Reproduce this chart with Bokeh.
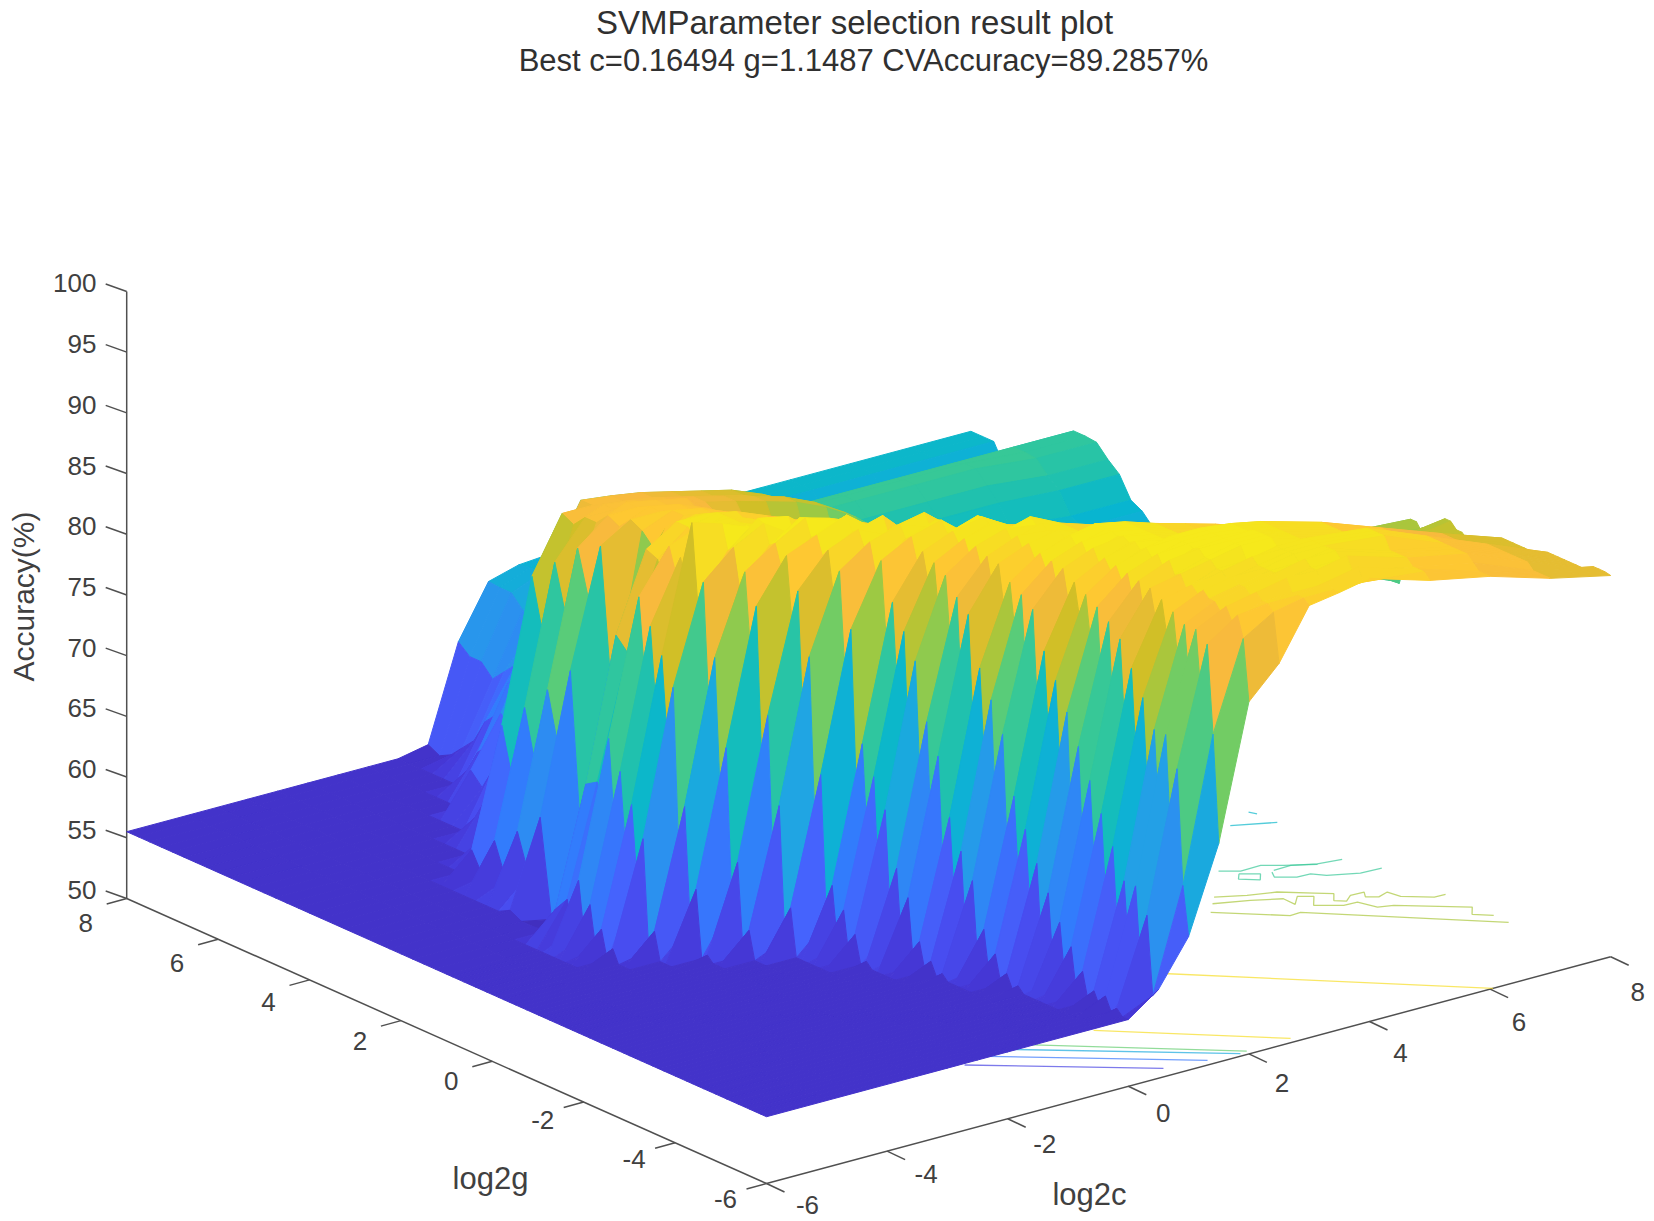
from bokeh.plotting import figure
from bokeh.models import Range1d, ColumnDataSource
from bokeh.embed import file_html
from bokeh.resources import INLINE
from bokeh.core.properties import value

title_lines = ["SVMParameter selection result plot", "Best c=0.16494 g=1.1487 CVAccuracy=89.2857%"]
z_ticks = [50, 55, 60, 65, 70, 75, 80, 85, 90, 95, 100]
g_ticks = [-6, -4, -2, 0, 2, 4, 6, 8]
c_ticks = [-6, -4, -2, 0, 2, 4, 6, 8]

log2c = [-6, -5, -4.5, -4, -3.5, -3, -2.5, -2, -1.5, -1, -.5, 0, .5, 1, 1.5, 2, 2.5, 3, 3.5, 4, 5, 6, 7, 8]
log2g = [-6 + .125 * k for k in range(57)] + [1 + .25 * k for k in range(1, 29)]
floor_level = 55.5

# accuracy per row of log2g: the last values of the row (up to log2c = 8); everything before is the flat floor
accuracy_rows = [
[57.3,61,68,79,81.5,85.6,86,86.5,85,84,82.5,81.4],
[56.6,65,76.8,84,85.5,86,86,86,85.5,84,82.5,81.5],
[56,63,74.4,84,85.7,86,86,86.5,87,85.5,84,82.5,81.5],
[57.8,67.4,79,85,86,86,86,86.5,85.5,84.5,82.5,81.5],
[56.6,65,76.8,84.8,86,86.5,87,87,87.5,86,85,83,81],
[57.8,67.4,79,85.4,86,86.5,87,87,86,85,83,81],
[56.6,65,76.8,84.8,86,86.5,87,87.5,87.5,86,85,83,81],
[59.4,69.7,81,86,86.5,87,87,87.5,86,85,83,81],
[57.8,67.4,79,85.4,86.5,87,87,87.5,87.5,87,85,83,81],
[61,72,83,86,86.5,87,87.5,87.5,87,85,83,81],
[59.4,69.7,81,86,86.5,87,87.5,87.5,87.5,87,85,83,81],
[56,63,74.4,84,86,87,87,87.5,87.5,87,85,83,81],
[61,72,83,86.5,87,87.5,88,88,87.2,85.8,84,82.2,80.5],
[56,63,74.4,84,86.7,87.5,88,88,87.2,85.8,84,82.2,80.5],
[56,63,74.4,84,86.7,87.7,88,88,88,87.2,85.8,84,82.2,80.5],
[56.6,65,76.8,84.8,86.9,87.8,88,88,87.2,85.8,84,82.2,80.5],
[56.6,65,76.8,84.8,86.9,87.8,88,88,87.7,87.2,85.8,84,82.2,80.5],
[59.4,69.7,81,86,87.3,88,88,87.7,87.2,85.8,84,82.2,80.5],
[57.8,67.4,79,85.4,87.1,87.9,88,88,87.7,87.2,85.8,84,82.2,80.5],
[61,72,83,86.5,87.5,88,88,87.7,87.2,85.8,84,82.2,80.5],
[59.4,69.7,81,86,87.3,88,87.5,86.7,86,85.3,83.7,82.2,80.6,79],
[56,63,74.4,84,86.7,87.7,87.5,86.7,86,85.3,83.7,82.2,80.6,79],
[56,63,74.4,84,86.7,87.7,88,87.5,86.7,86,85.3,83.7,82.2,80.6,79],
[56.6,65,76.8,84.8,86.9,87.8,87.5,86.7,86,85.3,83.7,82.2,80.6,79],
[56.6,65,76.8,84.8,86.9,87.8,88,87.5,86.7,86,85.3,83.7,82.2,80.6,79],
[59.4,69.7,81,86,87.3,88,87.5,86.7,86,85.3,83.7,82.2,80.6,79],
[57.8,67.4,79,85.4,87.1,87.9,88,87.5,86.7,86,85.3,83.7,82.2,80.6,79.5],
[61,72,83,86.5,87.5,88,87.5,86.7,86,85.3,83.7,82.2,80.6,79.5],
[61,72,83,86.5,87.5,88,86.8,86,85.3,84.6,83.8,82.3,80.8,79.3,80],
[56,63,74.4,84,86.7,87.7,86.8,86,85.3,84.6,83.8,82.3,80.8,79.3,80],
[56,63,74.4,84,86.7,87.7,87.5,86.8,86,85.3,84.6,83.8,82.3,80.8,79.3,77],
[57.8,67.4,79,85.4,87.1,87.9,86.8,86,85.3,84.6,83.8,82.3,80.8,79.3,79],
[57.8,67.4,79,85.4,87.1,87.9,87.5,86.8,86,85.3,84.6,83.8,82.3,80.8,79.3,78],
[59.4,69.7,81,86,87.3,88,86.8,86,85.3,84.6,83.8,82.3,80.8,79.3,78],
[59.4,69.7,81,86,87.3,88,86.5,85.8,85,84.2,83.4,82.6,81,79.5,79,78.7],
[56,63,74.4,84,86.7,87.7,86.5,85.8,85,84.2,83.4,82.6,81,79.5,79,78.7],
[61,72,83,86.5,87.5,88,86.5,85.8,85,84.2,83.4,82.6,81,79,77,75],
[57.8,67.4,79,85.4,87.1,87.9,86.5,85.8,85,84.2,83.4,82.6,81,79,76,73],
[59.4,69.7,81,86,87.3,88,86,85.2,84.3,83.4,82.5,81.6,80.7,79,77,75,73],
[56.6,65,76.8,84.8,86.9,87.8,86,85.2,84.3,83.4,82.5,81.6,80.7,79,77,75,73],
[57.8,67.4,79,85.4,87.1,87.9,87,86,85.2,84.3,83.4,82.5,81.6,80.7,79,77,75,73],
[61,72,83,86.5,87.5,88,86,85.2,84.3,83.4,82.5,81.6,80.7,79,77,75,73],
[56,63,74.4,84,86.7,87.7,86.6,85.6,84.6,83.6,82.6,81.6,80.6,79.6,78.6,77,75.5,74,73],
[59.4,69.7,81,86,87.3,88,85.6,84.6,83.6,82.6,81.6,80.6,79.6,78.6,77,75.5,74,73],
[61,72,83,86.5,87.5,88.5,86.6,85.6,84.6,83.6,82.6,81.6,80.6,79.6,78.6,77,75.5,74,73],
[57.8,67.4,79,85.4,87.1,88,86.6,85.6,84.6,83.6,82.6,81.6,80.6,79.6,78.6,77,75.5,74,73],
[57.8,67.4,79,85.4,87.1,88.5,87.6,86.6,85.6,84.6,83.6,82.6,81.6,80.6,79.6,78.6,76,75,73.5,72.5],
[56,63,74.4,84,86.7,88.3,87.6,86.6,85.6,84.6,83.6,82.6,81.6,80.6,79.6,78.6,76,75,73.5,72.5],
[56.6,65,76.8,84.8,87,88.3,86.7,86,85,84,83,82,81,80,79,78,77,75,74,73,72],
[61,72,83,86.5,88.5,88,86,85,84,83,82,81,80,79,78,77,75,74,73,72],
[57.8,67.4,79,89.28,88.5,87.5,86.7,86,85,84,83,82,81,80,79,78,77,75,74,73,71.5],
[56,63,74.4,84,87,87.5,86.7,86,85,84,83,82,81,80,79,78,77,75,74,73,71.5],
[59.4,69.7,81,86,87.5,87.5,86.5,86,85,84,83,81.5,80.5,79.5,78.5,77.5,76.5,75,73.5,72,71],
[56.6,65,76.8,84.8,87,87.5,86.5,86,85,84,83,81.5,80.5,79.5,78.5,77.5,76.5,75,73.5,72,71],
[61,72,83,86.5,87.5,87.5,86.5,85.5,84.5,83.5,82.5,81.5,80.5,79.5,78,77,76,74.5,73,71.5,70.5],
[56.6,64,75,83,86.5,87.5,86.5,85.5,84.5,83.5,82.5,81.5,80.5,79.5,78,77,76,74.5,73,71.5,70.5],
[59,68,78,85,87,87.5,86,85,84,83,82,81,80,79,77.5,76.5,75.5,74,72.5,71,70],
[57.8,67.4,79,85.4,87,87,86.5,85.5,84.5,83,81.5,80,78.5,77,75.5,74.5,73.5,72,71,70.5,70],
[56,68,81,86,86.5,86,85,84,82.5,81,79.5,78,76.5,75,74,73,71.5,70.5,70,70],
[55.5,54,58,70,84,86,85.5,84.5,83,81.5,80,78.5,77,75.5,74,73,72,71,70,69.5,69],
[55,60,72,85,86,85.5,84.5,83,81.5,80,78.5,77,75.5,74,73,72,71,69.5,69,68],
[56,63,74.4,84,85.5,85.5,85,83.5,82,80.5,79,77.5,76,74.5,73.5,72.5,71.5,70.5,69.5,69,68],
[57.8,67.4,79,84.5,85.5,85,84,82.5,81,79.5,78,76.5,75,74,73,72,70.5,69.5,68.5,68],
[61,72,83,85,85,84.5,83.5,82,80.5,79,77.5,76,74.5,73.5,72.5,71.5,70,69,68.5,68],
[56.6,65,76.8,84,85,84.5,84,82,80.5,79,77.5,76,74.5,73,72,71,70,69,68.5,68],
[59.4,69.7,81,84,84,83.7,83.2,82.6,82,81.3,80.6,79.5,78,76,74,72.5,70,69,68,68],
[56,63,74.4,83,84,83.7,83.2,82.6,82,81.3,80.6,79.5,78,75.5,73.5,72,69.5,68.5,68,68],
[57.8,67.4,79,83.5,83.5,83.2,82.8,82.2,81.6,81,80.2,79,77,75,73,71.5,70,69,68.5,68.5],
[57.8,67.4,79,83.5,83.2,82.8,82.2,81.6,81,80,78.5,76.5,74.5,73,71.5,69.5,69,68.5,68.5],
[57,60,63,68,72,76,78,77,75,74,73,72.5,72,71.5,71,70.5,70,69.5,69.5],
[58,62,65,70,76,77,75,73,72,72,71.5,71.5,71,71,70.5,70.5,70,70],
[59,63,67,71,74,74,73,73,72.5,72.5,72,72,72,72,72,72,71.7,71.7],
[57,60,64,68,72,73,73,73,73,73,73,73,73,73,73,73,72.5,72.5],
[60,65,69,72,73.5,74,74,74,74,74,74,74,74,74,74,73.5,73.5],
[58,62,67,71,73,74,74,74,74,74,74,74,74,74,74,73.6,73.6],
[59,63,68,71,73,73.6,73.6,73.6,73.6,73.6,73.6,73.6,73.6,73.6,73.6,73.6,73.6],
[60,66,70,71,72,72,72,72,72,72,72,72,72,72,72,72],
[59,64,68,70,70,70,70,70,70,70,70,70,70,70,70,70],
[57,61,65,67,68,68,68,68,68,68,68,68,68,68,68,68],
[60,64,66,66.5,66.5,66.5,66.5,66.5,66.5,66.5,66.5,66.5,66.5,66.5,66.5],
[58,63,66,66,66,66,66,66,66,66,66,66,66,66,66],
[57,62,67,68,68,68,68,68,68,68,68,68,68,68,68],
[56,63,68,69,69.5,69.5,69.5,69.5,69.8,69.8,69.8,69.8,69.8,69.8,69.8],
[63,68,69,69.5,69.5,69.5,69.8,69.8,69.8,69.8,69.8,69.8,69.8,69.8],
[56,63.8,68.1,68.8,69,69.5,69.5,69.5,69.8,69.8,69.8,69.8,69.8,69.8,69.8],
]

# floor contours: level, log2c points, log2g points
contours = [
(87, [2.98, 6.05], [-2.83, -6]),
(87, [.94, 2.79], [-4, -5.87]),
(76, [-.6, 2.04], [-3.4, -5.9]),
(68, [-.7, 1.92], [-3.6, -5.92]),
(62, [-.9, 1.42], [-3.8, -5.86]),
(57, [-1.2, .78], [-4.0, -5.74]),
(79, [4.89, 5.64, 5.82, 7.74], [-1.35, -2.1, -2.09, -4.11]),
(79, [5.28, 5.66, 6.05, 6.41, 6.6, 6.44, 6.56, 6.73, 6.95, 6.85, 6.99, 7.19, 7.23, 7.56, 7.74],
     [-.91, -1.13, -1.27, -1.61, -1.79, -2, -2.12, -1.98, -1.99, -2.15, -2.26, -2.18, -2.42, -2.72, -2.73]),
(79, [5.11, 5.58, 5.96, 5.95, 6.16, 6.33, 6.12, 6.43, 6.65, 6.74, 6.95, 7.72, 7.55, 7.75],
     [-1.1, -1.31, -1.53, -1.8, -1.57, -1.71, -1.98, -2.23, -2.24, -2.56, -2.64, -3.34, -3.56, -3.77]),
(74, [5.93, 6.16, 6.5, 6.74, 7.11], [-.15, -.33, -.32, -.51, -.76]),
(74, [6.08, 6.3, 6.16, 5.95, 6.08], [-.4, -.58, -.76, -.56, -.4]),
(74, [6.52, 6.81, 7.12, 7.48], [-.58, -.57, -.74, -.81]),
(74, [6.46, 6.37, 6.6, 6.82, 6.95, 7.35, 7.69], [-.62, -.79, -.98, -.99, -1.17, -1.38, -1.4]),
(70, [7.11, 7.67], [1.15, .86]),
(70, [7.61, 7.66], [1.41, 1.29]),
]

PARULA = [(.2422,.1504,.6603),(.2706,.2147,.8364),(.2813,.3006,.9414),(.2699,.3892,.9906),(.1963,.4847,.9892),
          (.1687,.5703,.9359),(.1248,.6459,.8883),(.0297,.7082,.8163),(.0964,.75,.712),(.2161,.7843,.5923),
          (.3909,.8029,.4354),(.6174,.7876,.2612),(.8203,.7498,.1535),(.9728,.7298,.2394),(.9952,.7861,.1963),
          (.9597,.8923,.1168),(.9769,.9839,.0805)]
Z_MIN, Z_MAX = 53.57, 89.28

def parula(z):
    t = min(max((z - Z_MIN) / (Z_MAX - Z_MIN), 0), 1)
    i = int(t * 63.999) / 63 * 15.75
    k = min(int(i), 15)
    f = min(i - k, 1)
    a, b = PARULA[k], PARULA[k + 1]
    return "#%02x%02x%02x" % tuple(round(255 * (a[n] + (b[n] - a[n]) * f)) for n in range(3))

def sx(c, g):
    return 766 + 60.3 * (c + 6) - 45.7 * (g + 6)

def sy(c, g, z):
    return 1183 - 16.2 * (c + 6) - 20.36 * (g + 6) - 12.14 * (z - 50)

p = figure(width=1654, height=1221, output_backend="svg", toolbar_location=None,
           x_range=Range1d(0, 1654), y_range=Range1d(1221, 0), min_border=0,
           background_fill_color="white", border_fill_color="white", outline_line_color=None)
p.axis.visible = False
p.grid.visible = False

AXIS = "#505050"
TEXT = "#404040"
FONT = value("Liberation Sans")

# axes
seg = dict(x0=[], y0=[], x1=[], y1=[])
def add(x0, y0, x1, y1):
    seg["x0"].append(x0); seg["y0"].append(y0); seg["x1"].append(x1); seg["y1"].append(y1)
add(sx(-6, 8), sy(-6, 8, 50), sx(-6, 8), sy(-6, 8, 100))
add(sx(-6, 8), sy(-6, 8, 50), sx(-6, -6), sy(-6, -6, 50))
add(sx(-6, -6), sy(-6, -6, 50), sx(8, -6), sy(8, -6, 50))
for z in z_ticks:
    add(sx(-6, 8), sy(-6, 8, z), sx(-6, 8) - 21, sy(-6, 8, z) - 7.5)
for g in g_ticks:
    add(sx(-6, g), sy(-6, g, 50), sx(-6, g) - 20, sy(-6, g, 50) + 5.5)
for c in c_ticks:
    add(sx(c, -6), sy(c, -6, 50), sx(c, -6) + 18, sy(c, -6, 50) + 8.5)
p.segment("x0", "y0", "x1", "y1", source=ColumnDataSource(seg), line_color=AXIS, line_width=1.5)

# contour lines on the floor
for level, cs, gs in contours:
    p.line([sx(c, g) for c, g in zip(cs, gs)], [sy(c, g, 50) for c, g in zip(cs, gs)],
           line_color=parula(level), line_width=1.3, line_alpha=.7)

# surface, back to front; every facet takes the mean colour of its corners (a dip below the floor stays dark)
rows = [[floor_level] * (len(log2c) - len(t)) + t for t in accuracy_rows]
xs, ys, cols = [], [], []
for i in range(len(log2g) - 2, -1, -1):
    for j in range(len(log2c) - 2, -1, -1):
        g0, g1, c0, c1 = log2g[i], log2g[i + 1], log2c[j], log2c[j + 1]
        corners = [(c0, g0, rows[i][j]), (c1, g0, rows[i][j + 1]), (c1, g1, rows[i + 1][j + 1]), (c0, g1, rows[i + 1][j])]
        xs.append([sx(a, b) for a, b, _ in corners])
        ys.append([sy(a, b, z) for a, b, z in corners])
        mean = sum(q[2] for q in corners) / 4
        cols.append(parula(rows[i][j] if rows[i][j] < floor_level - 1 else mean))
p.patches("xs", "ys", source=ColumnDataSource(dict(xs=xs, ys=ys, c=cols)), fill_color="c", line_color="c", line_width=1)

# texts
def labels(x, y, text, size, align="center", angle=0.0, color=TEXT):
    p.text(x, y, text=text, text_font=FONT, text_font_size=size, text_align=align, text_baseline="middle",
           text_color=color, angle=angle)

labels([96] * len(z_ticks), [sy(-6, 8, z) - 8 for z in z_ticks], [str(z) for z in z_ticks], "26px", "right")
labels([sx(-6, g) - 41 for g in g_ticks], [sy(-6, g, 50) + 15 + .7 * (g + 6) for g in g_ticks], [str(g) for g in g_ticks], "26px")
labels([sx(c, -6) + 41 - (c + 6) for c in c_ticks], [sy(c, -6, 50) + 21 + (c + 6) for c in c_ticks], [str(c) for c in c_ticks], "26px")
labels([490], [1178], ["log2g"], "31px")
labels([1089], [1194], ["log2c"], "31px")
labels([23], [596], ["Accuracy(%)"], "30px", angle=1.5708)
labels([854], [22], [title_lines[0]], "33px", color="#303030")
labels([863], [60], [title_lines[1]], "31px", color="#303030")

open("out.html", "w").write(file_html(p, INLINE))
